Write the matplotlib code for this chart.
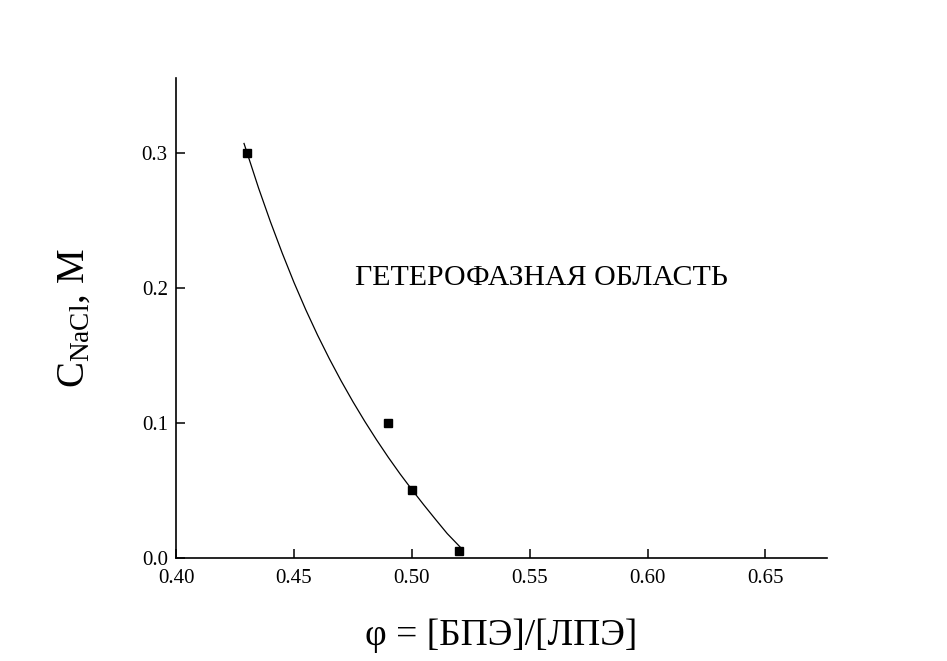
import matplotlib.pyplot as plt

plt.rcParams['font.family'] = ['Liberation Serif', 'DejaVu Serif']
plt.rcParams['mathtext.fontset'] = 'custom'
plt.rcParams['mathtext.rm'] = 'Liberation Serif'
plt.rcParams['mathtext.it'] = 'Liberation Serif:italic'

# экспериментальные точки
phi = [0.43, 0.49, 0.50, 0.52]
c_nacl = [0.30, 0.10, 0.05, 0.005]

# аппроксимирующая кривая
fit_phi = [0.4288, 0.435, 0.440, 0.445, 0.450, 0.455, 0.460, 0.465, 0.470,
           0.475, 0.480, 0.485, 0.490, 0.495, 0.500, 0.505, 0.510, 0.515,
           0.5215]
fit_c = [0.307, 0.2738, 0.2490, 0.2258, 0.2040, 0.1838, 0.1650, 0.1475,
         0.1311, 0.1157, 0.1012, 0.0875, 0.0745, 0.0622, 0.0506, 0.0394,
         0.0286, 0.0180, 0.0062]

x_ticks = [0.40, 0.45, 0.50, 0.55, 0.60, 0.65]
y_ticks = [0.0, 0.1, 0.2, 0.3]

fig = plt.figure(figsize=(9.47, 6.61), dpi=100)
ax = fig.add_axes([0.186, 0.156, 0.687, 0.726])

ax.plot(fit_phi, fit_c, color='black', linewidth=0.9, solid_joinstyle='round')
ax.plot(phi, c_nacl, 's', color='black', markersize=6)

ax.set_xlim(0.40, 0.676)
ax.set_ylim(0.0, 0.3555)
ax.set_xticks(x_ticks)
ax.set_yticks(y_ticks)
ax.set_xticklabels(['%.2f' % v for v in x_ticks])
ax.set_yticklabels(['%.1f' % v for v in y_ticks])

for s in ['top', 'right']:
    ax.spines[s].set_visible(False)
for s in ['left', 'bottom']:
    ax.spines[s].set_linewidth(1.2)

ax.tick_params(direction='in', length=6.5, width=1.1, labelsize=15)
ax.tick_params(axis='x', pad=8)
ax.tick_params(axis='y', pad=6)

ax.text(0.476, 0.2075, 'ГЕТЕРОФАЗНАЯ ОБЛАСТЬ', fontsize=21.5, ha='left', va='center')

ax.set_xlabel('φ = [БПЭ]/[ЛПЭ]', fontsize=27, labelpad=22)
ax.set_ylabel(r'C$_{\mathrm{NaCl}}$, M', fontsize=28, labelpad=35)

plt.savefig('out.png', dpi=100, facecolor='white')
